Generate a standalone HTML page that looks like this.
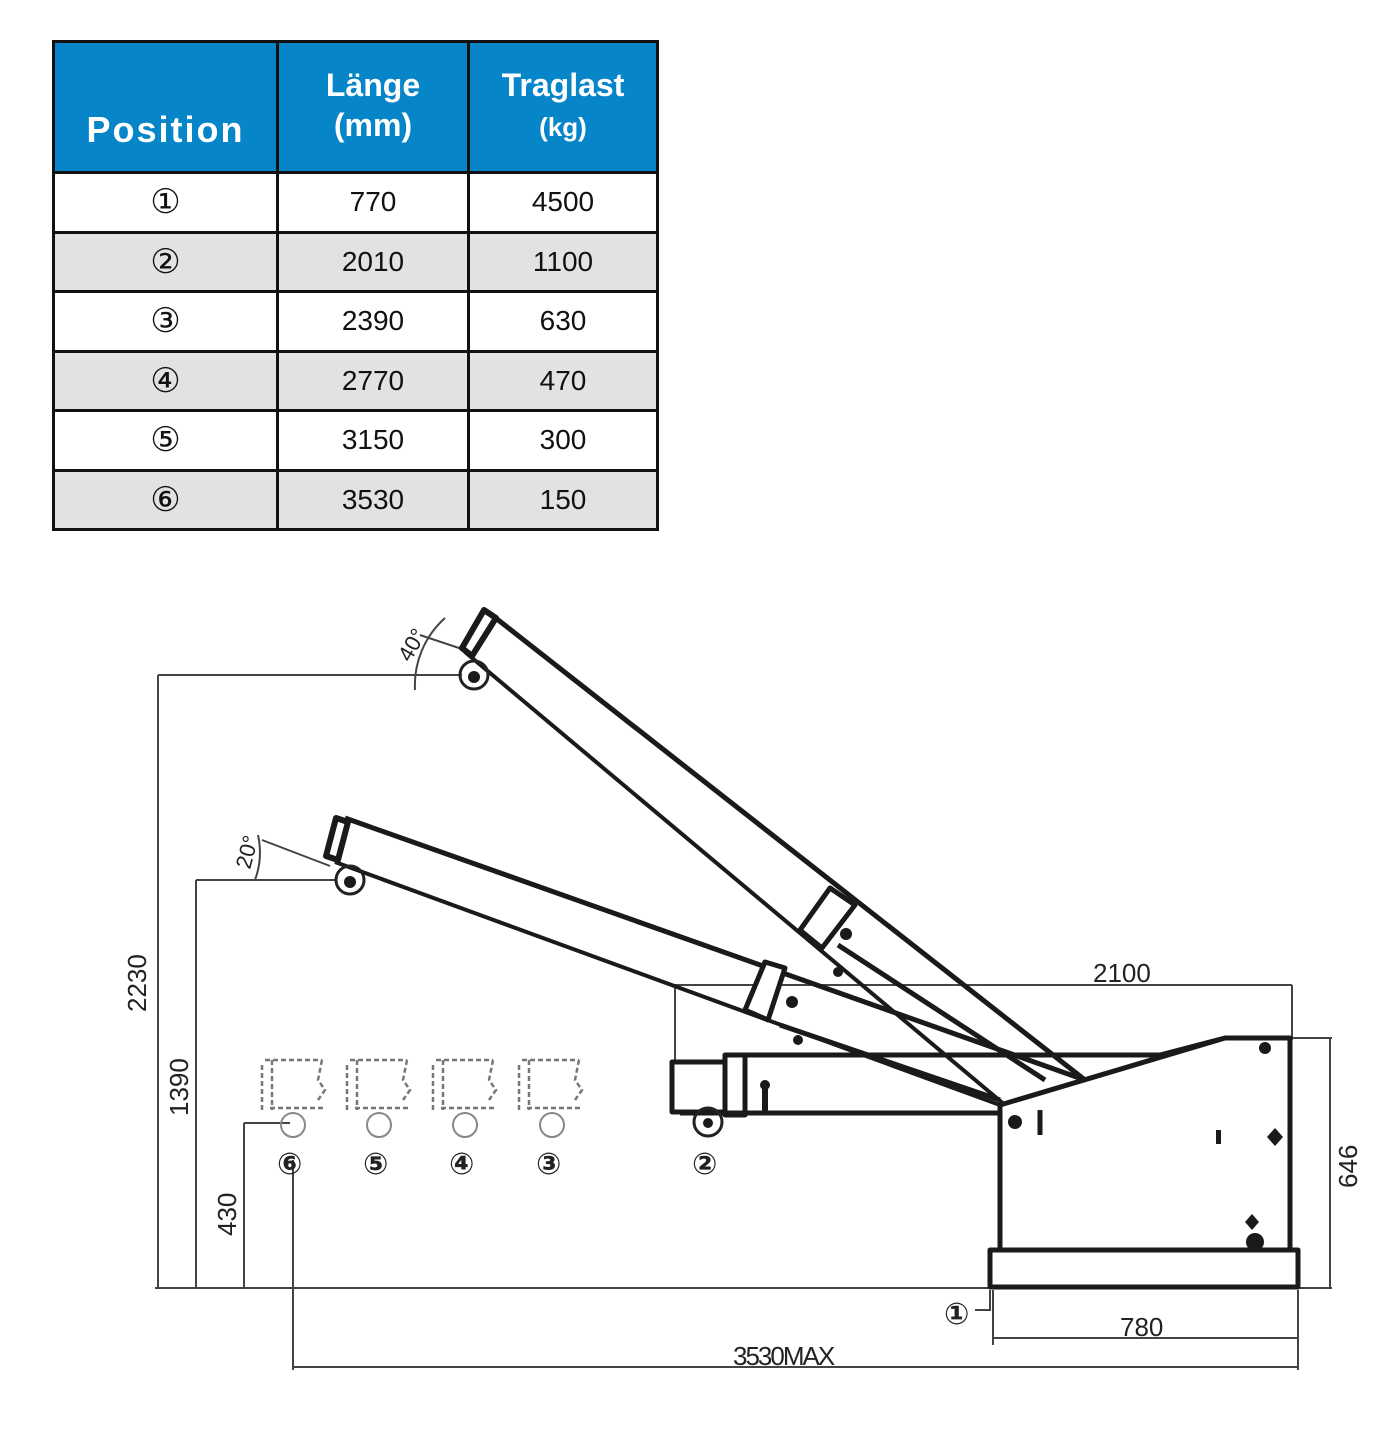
<!DOCTYPE html>
<html><head><meta charset="utf-8"><style>
body{margin:0;width:1374px;height:1437px;background:#fff;position:relative;overflow:hidden;font-family:"Liberation Sans",sans-serif}
table{position:absolute;left:52px;top:40px;border-collapse:collapse;width:607px}
td,th{border:3px solid #111;text-align:center;padding:0;box-sizing:border-box}
th{background:#0785c9;color:#fff;font-weight:bold;height:131px;position:relative}
th div{position:absolute;left:0;right:0}
td{height:59.5px;font-size:28px;color:#111}
tr.g td{background:#e2e2e2}
.c{font-family:"DejaVu Serif","DejaVu Sans",serif;font-size:34px}
</style></head><body>
<table>
<tr><th style="width:224px"><div style="top:66px;font-size:36px;letter-spacing:2px">Position</div></th>
<th style="width:191px"><div style="top:22px;font-size:32px;line-height:40px">Länge<br>(mm)</div></th>
<th><div style="top:22px;font-size:32px;line-height:40px">Traglast<br><span style="font-size:26px">(kg)</span></div></th></tr>
<tr><td class="c">①</td><td>770</td><td>4500</td></tr>
<tr class="g"><td class="c">②</td><td>2010</td><td>1100</td></tr>
<tr><td class="c">③</td><td>2390</td><td>630</td></tr>
<tr class="g"><td class="c">④</td><td>2770</td><td>470</td></tr>
<tr><td class="c">⑤</td><td>3150</td><td>300</td></tr>
<tr class="g"><td class="c">⑥</td><td>3530</td><td>150</td></tr>
</table>
<svg width="1374" height="1437" style="position:absolute;left:0;top:0" font-family="Liberation Sans" fill="none" stroke="#222">
<g stroke-width="2" stroke="#444">
<path d="M158 675V1288M158 675H462M196 880V1288M196 880H335M244 1123V1288M244 1123H290M155 1288H1300M293 1160V1370M293 1367H1298M993 1290V1345M993 1338H1298M1298 1290V1370M675 985V1060M675 985H1292M1292 985V1040M1330 1038V1288M1292 1038H1332M1298 1288H1332"/>
<path d="M415 690 A90 90 0 0 1 445 618" /><path d="M255 880 A80 80 0 0 0 258 835"/>
<path d="M262 840L330 866M420 635L465 650"/>
<path d="M990 1290V1310H975"/>
</g>
<g stroke-width="5" stroke="#1a1a1a" stroke-linejoin="round">
<path d="M488 612L1085 1080"/><path d="M465 652L1005 1105" stroke-width="4"/>
<path d="M484 610L462 648L472 656L496 618Z" stroke-width="6"/>
<path d="M800 930L830 888L855 905L822 948Z" fill="#fff"/>
<path d="M838 945L1045 1080"/>
<path d="M345 818L1085 1080"/><path d="M335 862L1000 1105" stroke-width="4"/>
<path d="M336 818L326 856L338 860L348 822Z" stroke-width="6"/>
<path d="M745 1010L765 962L785 968L768 1020Z" fill="#fff"/>
<path d="M780 1025L1000 1100"/>
<path d="M725 1055H1160L1225 1038H1290V1250M680 1113H1000M1000 1105L1225 1038"/>
<path d="M672 1062H725V1112H672Z"/><path d="M725 1055H745V1115H725Z"/>
<path d="M1000 1105V1250M990 1250H1298V1287H990Z"/>
<path d="M1040 1110V1135"/>
</g>
<g fill="#1a1a1a" stroke="none">
<circle cx="474" cy="677" r="6"/><circle cx="350" cy="882" r="6"/><circle cx="708" cy="1123" r="5"/>
<circle cx="846" cy="934" r="6"/><circle cx="792" cy="1002" r="6"/><circle cx="838" cy="972" r="5"/><circle cx="798" cy="1040" r="5"/>
<circle cx="1015" cy="1122" r="7"/><circle cx="1265" cy="1048" r="6"/><circle cx="1255" cy="1242" r="9"/>
<rect x="1216" y="1130" width="5" height="14"/><path d="M1275 1128l8 9-8 9-8-9z"/><path d="M1252 1214l7 8-7 8-7-8z"/>
<circle cx="765" cy="1085" r="5"/><rect x="762" y="1085" width="6" height="30"/>
</g>
<g stroke-width="3"><circle cx="474" cy="675" r="14"/><circle cx="350" cy="880" r="14"/><circle cx="708" cy="1122" r="14"/></g>
<g stroke="#777" stroke-width="2.5" stroke-dasharray="5 3">
<path d="M265 1060H322M262 1065V1110M270 1108H325M272 1060V1110M322 1060L318 1080L325 1090L318 1100"/>
<path d="M350 1060H407M347 1065V1110M355 1108H410M357 1060V1110M407 1060L403 1080L410 1090L403 1100"/>
<path d="M436 1060H493M433 1065V1110M441 1108H496M443 1060V1110M493 1060L489 1080L496 1090L489 1100"/>
<path d="M522 1060H579M519 1065V1110M527 1108H582M529 1060V1110M579 1060L575 1080L582 1090L575 1100"/>
</g>
<g stroke="#888" stroke-width="2"><circle cx="293" cy="1125" r="12"/><circle cx="379" cy="1125" r="12"/><circle cx="465" cy="1125" r="12"/><circle cx="552" cy="1125" r="12"/></g>
<g fill="#222" stroke="none" font-size="26">
<text x="1093" y="982">2100</text><text x="1120" y="1336">780</text><text x="733" y="1365" letter-spacing="-2">3530MAX</text>
<text transform="translate(1357 1188) rotate(-90)">646</text>
<text transform="translate(146 1012) rotate(-90)">2230</text>
<text transform="translate(188 1116) rotate(-90)">1390</text>
<text transform="translate(236 1236) rotate(-90)">430</text>
<text transform="translate(410 663) rotate(-60)" font-size="22">40°</text>
<text transform="translate(250 870) rotate(-75)" font-size="22">20°</text>
<g font-family="DejaVu Sans" font-size="30" font-weight="bold"><text x="277" y="1174">⑥</text><text x="363" y="1174">⑤</text><text x="449" y="1174">④</text><text x="536" y="1174">③</text><text x="692" y="1174">②</text><text x="944" y="1324">①</text></g>
</g>
</svg>
</body></html>
